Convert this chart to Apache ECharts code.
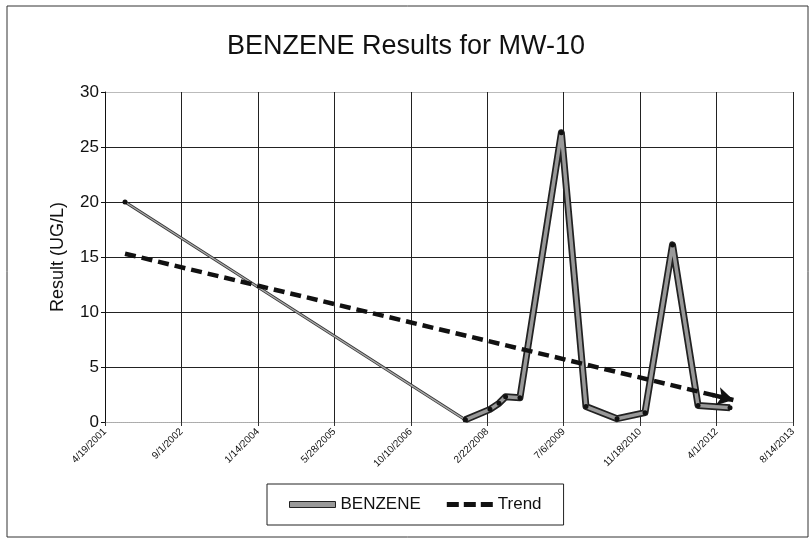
<!DOCTYPE html>
<html>
<head>
<meta charset="utf-8">
<script src="https://cdn.jsdelivr.net/npm/echarts@6/dist/echarts.min.js"></script>
<style>html,body{margin:0;padding:0;background:#fff}#c{width:812px;height:541px}</style>
</head>
<body>
<div id="c"></div>
<script>
// ---- data ----
const axisStartDate = '2001-04-19';
const xTickDays = 500;
const xMaxDays = 4500;
const yTicks = [0, 5, 10, 15, 20, 25, 30];

const sampleDates = ['2001-08-28','2007-10-01','2008-03-11','2008-05-09','2008-06-21','2008-09-23','2009-06-21','2009-11-29','2010-06-20','2010-12-20','2011-06-18','2011-12-02','2012-06-28'];
const benzeneValues = [20, 0.2, 1.15, 1.7, 2.3, 2.2, 26.3, 1.4, 0.3, 0.85, 16.1, 1.5, 1.3];

const trendDates = ['2001-08-28', '2012-07-20'];
const trendValues = [15.3, 2.0];

// ---- helpers ----
const DAY = 86400000;
const t0 = Date.parse(axisStartDate + 'T00:00:00Z');
const toDays = s => (Date.parse(s + 'T00:00:00Z') - t0) / DAY;
const fmt = v => { const d = new Date(t0 + v * DAY); return (d.getUTCMonth()+1) + '/' + d.getUTCDate() + '/' + d.getUTCFullYear(); };

const pts = sampleDates.map((d, i) => [toDays(d), benzeneValues[i]]);
const early = pts.slice(0, 2);
const later = pts.slice(1);
const trendPts = trendDates.map((d, i) => [toDays(d), trendValues[i]]);
const ta = trendPts[0], tb = trendPts[1];
const f = 0.965;
const arrowFrom = [ta[0] + (tb[0]-ta[0])*f, ta[1] + (tb[1]-ta[1])*f];

const benzeneIcon = 'path://M0,0h46v6h-46z';
const trendIcon = 'path://M0,0.5h12v5h-12z M17,0.5h12v5h-12z M34,0.5h12v5h-12z M0,0h0.01v0.01h-0.01z M45.99,5.99h0.01v0.01h-0.01z';

const chart = echarts.init(document.getElementById('c'));
const FONT = '"Liberation Sans", Arial, sans-serif';
chart.setOption({
  animation: false,
  backgroundColor: '#fff',
  textStyle: { fontFamily: FONT },
  graphic: [{ type: 'rect', shape: { x: 7, y: 6, width: 801, height: 531 }, style: { fill: 'none', stroke: '#333', lineWidth: 1 }, silent: true }],
  title: { text: 'BENZENE Results for MW-10', left: 'center', top: 28, textStyle: { fontFamily: FONT, fontSize: 27, fontWeight: 'normal', color: '#111' } },
  grid: { left: 105, right: 19, top: 92, bottom: 119, containLabel: false },
  legend: {
    bottom: 16, left: 267,
    data: [
      { name: 'BENZENE', icon: benzeneIcon, itemStyle: { color: '#999', borderColor: '#222', borderWidth: 1 } },
      { name: 'Trend', icon: trendIcon, itemStyle: { color: '#111', borderWidth: 0 } }
    ],
    itemWidth: 46, itemHeight: 6, itemGap: 26,
    padding: [12, 22],
    borderColor: '#222', borderWidth: 1,
    textStyle: { fontFamily: FONT, fontSize: 17, color: '#111' }
  },
  xAxis: {
    type: 'value', min: 0, max: xMaxDays, interval: xTickDays,
    axisLine: { show: true, lineStyle: { color: '#aaa', type: 'dotted' } },
    axisTick: { show: true, length: 4, lineStyle: { color: '#333' } },
    splitLine: { show: true, lineStyle: { color: '#222', width: 1 } },
    axisLabel: { rotate: 45, fontSize: 10, color: '#111', margin: 8, formatter: fmt, fontFamily: FONT }
  },
  yAxis: {
    type: 'value', min: yTicks[0], max: yTicks[yTicks.length-1], interval: yTicks[1]-yTicks[0],
    name: 'Result (UG/L)', nameLocation: 'middle', nameGap: 38, nameRotate: 90,
    nameTextStyle: { fontFamily: FONT, fontSize: 18, color: '#111' },
    axisLine: { show: true, lineStyle: { color: '#111' } },
    axisTick: { show: true, length: 4, lineStyle: { color: '#111' } },
    splitLine: { show: true, lineStyle: { color: ['#bbb', '#222', '#222', '#222', '#222', '#222', '#bbb'], width: 1 } },
    axisLabel: { fontSize: 17, color: '#111', margin: 6, fontFamily: FONT }
  },
  series: [
    { name: 'early-outline', type: 'line', data: early, symbol: 'none', silent: true, z: 2, lineStyle: { color: '#333', width: 3 } },
    { name: 'early', type: 'line', data: early, symbol: 'circle', symbolSize: 5, silent: true, z: 3,
      itemStyle: { color: '#111' }, lineStyle: { color: '#aaa', width: 1.4 } },
    { name: 'outline', type: 'line', data: later, symbol: 'none', silent: true, z: 2, lineStyle: { color: '#222', width: 7, join: 'round' } },
    { name: 'BENZENE', type: 'line', data: later, symbol: 'circle', symbolSize: 5, z: 3,
      itemStyle: { color: '#111' }, lineStyle: { color: '#999', width: 3.5, join: 'round' } },
    { name: 'Trend', type: 'line', data: trendPts, symbol: 'none', z: 5,
      itemStyle: { color: '#111' },
      lineStyle: { color: '#111', width: 4.5, type: [11, 6] },
      markLine: { silent: true, symbol: ['none', 'arrow'], symbolSize: [14, 16], label: { show: false },
        lineStyle: { color: '#111', width: 4.5, type: 'solid' },
        data: [[{ coord: arrowFrom }, { coord: tb }]] } }
  ]
});
</script>
</body>
</html>
